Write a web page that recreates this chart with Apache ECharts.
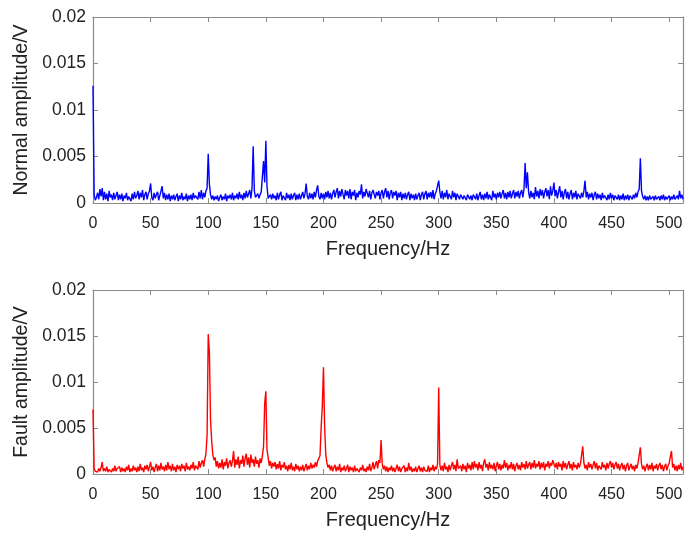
<!DOCTYPE html>
<html>
<head>
<meta charset="utf-8">
<title>Amplitude spectra</title>
<script src="https://cdn.jsdelivr.net/npm/echarts@6/dist/echarts.min.js"></script>
<style>
  html, body { margin: 0; padding: 0; background: #fff; }
  #chart { width: 686px; height: 534px; }
</style>
</head>
<body>
<div id="chart"></div>
<script>
// Spectrum amplitudes in mV, one value per 1 Hz bin starting at 0 Hz.
const normalAmp_mV = [
  12.6, 0.9, 0.3, 0.6, 1.1, 0.4, 1.5, 0.7, 1.6, 0.3,
  1.2, 0.4, 1.0, 0.2, 1.3, 0.6, 0.9, 0.3, 1.1, 0.4,
  0.8, 1.2, 0.3, 0.9, 0.4, 1.0, 0.2, 0.8, 0.5, 1.1,
  0.3, 0.7, 0.9, 0.2, 1.0, 0.4, 1.2, 0.5, 0.8, 1.3,
  0.4, 1.1, 0.6, 1.4, 0.3, 0.9, 1.2, 0.4, 1.0, 1.3,
  2.1, 0.6, 0.3, 1.1, 0.5, 0.9, 1.2, 0.3, 0.8, 1.0,
  1.8, 0.5, 1.1, 0.3, 0.9, 0.4, 1.0, 0.2, 0.8, 0.4,
  0.9, 0.3, 0.7, 1.0, 0.2, 0.8, 0.4, 1.1, 0.3, 0.7,
  0.4, 1.0, 0.2, 0.8, 0.4, 0.9, 0.3, 1.1, 0.5, 0.8,
  1.0, 0.4, 1.2, 0.5, 1.4, 0.4, 1.1, 0.6, 1.3, 1.6,
  5.3, 2.0, 0.9, 0.4, 0.8, 0.3, 0.7, 0.4, 0.8, 0.2,
  0.6, 0.9, 0.3, 0.7, 0.4, 1.0, 0.2, 0.8, 0.5, 0.9,
  0.4, 1.1, 0.3, 0.8, 0.5, 1.0, 0.4, 1.2, 0.5, 0.9,
  0.3, 1.1, 0.5, 1.3, 0.6, 1.0, 1.4, 0.5, 1.6, 6.1,
  1.3, 0.6, 0.4, 1.0, 0.5, 0.9, 1.2, 1.0, 4.5, 2.2,
  6.7, 1.8, 0.5, 0.3, 0.9, 0.4, 1.0, 0.5, 0.8, 0.3,
  1.1, 0.4, 0.9, 1.2, 0.3, 0.8, 1.0, 0.3, 1.1, 0.5,
  0.9, 0.3, 1.0, 0.4, 0.8, 1.1, 0.3, 0.9, 0.4, 1.0,
  0.4, 0.8, 1.2, 0.5, 1.0, 2.1, 0.7, 0.4, 1.1, 0.5,
  1.0, 0.4, 1.2, 0.6, 1.4, 1.9, 0.7, 0.4, 1.1, 0.5,
  1.0, 0.4, 1.2, 0.6, 1.3, 0.5, 1.1, 0.4, 1.0, 1.4,
  0.6, 1.2, 1.6, 0.5, 1.3, 0.7, 1.5, 0.9, 0.4, 1.4,
  0.8, 1.3, 0.5, 1.5, 0.4, 1.2, 0.8, 1.4, 0.3, 1.1,
  0.6, 1.3, 0.9, 2.0, 0.5, 1.2, 0.7, 1.5, 1.7, 0.6,
  1.3, 0.4, 1.1, 1.4, 1.6, 0.5, 1.2, 0.8, 1.3, 0.4,
  1.1, 1.4, 0.5, 1.2, 1.6, 0.6, 1.3, 0.4, 1.1, 1.4,
  0.5, 1.2, 0.8, 1.3, 0.3, 1.1, 0.6, 1.2, 0.3, 1.0,
  0.5, 1.1, 0.4, 0.9, 1.2, 0.3, 1.0, 0.5, 0.9, 0.3,
  1.0, 0.4, 0.8, 1.1, 0.3, 0.9, 1.2, 0.4, 1.0, 1.3,
  0.4, 1.1, 0.6, 1.2, 0.5, 1.4, 0.4, 1.0, 1.3, 1.5,
  2.4, 1.2, 0.5, 1.3, 0.4, 1.1, 0.6, 1.4, 0.4, 1.0,
  1.2, 0.4, 1.3, 0.6, 1.1, 0.3, 1.0, 1.2, 0.4, 0.9,
  1.1, 0.4, 0.8, 1.0, 0.3, 0.9, 1.1, 0.4, 0.8, 0.3,
  0.9, 1.1, 0.4, 1.0, 0.3, 0.8, 1.2, 0.4, 0.9, 0.3,
  1.0, 0.5, 1.2, 0.4, 0.9, 1.1, 0.3, 1.3, 0.6, 1.0,
  0.4, 1.1, 0.6, 1.2, 0.5, 1.0, 1.4, 0.5, 1.1, 0.4,
  1.2, 0.6, 1.3, 0.5, 1.0, 1.4, 0.5, 1.2, 0.7, 1.3,
  0.5, 1.1, 1.4, 0.6, 1.5, 4.3, 1.6, 3.3, 1.2, 0.5,
  1.3, 0.6, 1.1, 0.4, 1.7, 0.7, 1.3, 0.5, 1.5, 0.8,
  1.4, 0.5, 1.2, 1.6, 0.7, 1.4, 0.4, 1.8, 0.8, 1.3,
  2.2, 0.7, 1.4, 0.5, 1.2, 1.8, 0.6, 1.3, 0.4, 1.1,
  1.5, 0.5, 1.2, 0.4, 1.0, 1.4, 0.4, 1.1, 0.6, 1.3,
  0.4, 1.0, 1.2, 0.5, 1.1, 0.6, 1.3, 2.4, 0.6, 1.2,
  0.4, 1.0, 0.6, 1.1, 0.3, 0.9, 1.2, 0.4, 1.0, 0.5,
  0.9, 0.3, 1.1, 0.5, 0.8, 1.0, 0.3, 0.9, 0.4, 1.1,
  0.5, 0.9, 0.3, 0.8, 1.0, 0.4, 0.9, 0.3, 0.8, 0.4,
  1.0, 0.3, 0.8, 0.4, 0.9, 0.3, 0.8, 1.0, 0.4, 0.9,
  0.5, 1.1, 0.6, 1.2, 1.5, 4.8, 1.3, 0.7, 0.4, 0.8,
  0.3, 0.7, 0.3, 0.8, 0.4, 0.5, 0.7, 0.3, 0.8, 0.4,
  0.3, 0.7, 0.3, 0.8, 0.4, 0.9, 0.3, 0.7, 0.4, 0.5,
  0.8, 0.3, 0.7, 0.4, 0.9, 0.4, 0.3, 0.8, 0.4, 1.3,
  0.5, 0.9, 0.4
];

const faultAmp_mV = [
  7.0, 0.6, 0.3, 0.5, 0.2, 0.6, 0.3, 0.7, 1.3, 0.3,
  0.6, 0.3, 0.8, 0.2, 0.5, 0.7, 0.2, 0.6, 0.3, 0.9,
  0.3, 0.6, 0.4, 0.8, 0.2, 0.7, 0.3, 0.6, 0.2, 0.8,
  0.4, 1.0, 0.2, 0.6, 0.3, 0.9, 0.4, 0.7, 0.2, 0.8,
  0.3, 1.1, 0.4, 0.7, 0.2, 0.9, 0.5, 1.0, 0.3, 0.8,
  1.3, 0.4, 0.8, 0.2, 0.7, 1.1, 0.3, 0.9, 0.4, 1.2,
  0.5, 0.8, 0.3, 1.0, 0.4, 1.3, 0.5, 0.9, 0.3, 1.1,
  0.4, 0.8, 0.2, 1.0, 0.5, 0.9, 0.3, 1.1, 0.6, 0.9,
  0.3, 1.2, 0.5, 0.8, 0.4, 1.0, 0.6, 1.3, 0.4, 0.9,
  1.1, 0.5, 1.4, 0.7, 1.2, 1.5, 0.8, 1.6, 2.2, 4.2,
  15.2, 13.3, 5.9, 3.6, 2.1, 1.5, 1.8, 0.8, 1.4, 0.6,
  1.2, 0.7, 1.6, 0.5, 1.3, 0.9, 1.7, 0.6, 1.2, 1.5,
  0.8, 1.4, 2.5, 0.7, 1.6, 1.0, 1.9, 0.6, 1.5, 1.1,
  2.0, 0.8, 1.7, 2.2, 1.0, 1.8, 0.7, 2.1, 1.2, 1.6,
  0.8, 1.9, 1.1, 1.5, 0.7, 1.7, 1.2, 2.0, 3.0, 7.7,
  9.0, 2.6, 1.8, 0.9, 1.4, 0.6, 1.2, 0.8, 1.3, 0.5,
  1.1, 0.6, 1.4, 0.4, 1.0, 0.7, 1.3, 0.5, 0.9, 0.3,
  1.0, 0.5, 1.2, 0.4, 0.8, 0.3, 1.1, 0.5, 0.9, 0.3,
  0.8, 0.4, 1.0, 0.3, 0.7, 1.1, 0.4, 0.9, 0.5, 1.2,
  0.6, 1.0, 0.7, 1.3, 0.8, 1.4, 1.6, 2.0, 5.1, 7.4,
  11.6, 5.2, 2.1, 1.2, 0.7, 1.0, 0.4, 0.9, 0.3, 0.7,
  1.0, 0.3, 0.8, 0.4, 1.1, 0.2, 0.7, 0.4, 0.9, 0.3,
  0.6, 1.0, 0.2, 0.8, 0.4, 0.7, 0.2, 0.9, 0.3, 0.6,
  0.8, 0.2, 0.7, 0.4, 1.0, 0.3, 0.6, 0.2, 0.8, 0.4,
  1.1, 0.3, 0.7, 1.3, 0.5, 1.0, 1.4, 0.6, 1.5, 1.2,
  3.7, 1.1, 0.5, 0.9, 0.3, 0.8, 0.2, 0.7, 0.4, 0.9,
  0.3, 0.7, 0.2, 0.6, 1.0, 0.3, 0.8, 0.2, 0.6, 0.4,
  0.9, 0.2, 0.7, 0.3, 1.2, 0.4, 0.8, 0.2, 0.6, 0.3,
  0.8, 0.2, 0.6, 0.9, 0.3, 0.7, 0.2, 0.8, 0.4, 0.6,
  0.3, 0.9, 0.2, 0.7, 0.4, 1.0, 0.3, 0.8, 0.5, 1.1,
  9.4, 1.0, 0.4, 0.9, 0.3, 1.2, 0.5, 0.8, 0.2, 1.0,
  0.4, 0.9, 1.3, 0.5, 1.0, 0.3, 1.6, 0.6, 0.4, 0.9,
  0.3, 1.1, 0.5, 0.9, 0.2, 1.2, 0.6, 1.0, 0.4, 1.3,
  0.5, 1.4, 0.7, 1.1, 0.4, 1.3, 0.6, 1.0, 0.3, 1.2,
  1.6, 0.7, 1.1, 0.4, 1.3, 0.6, 1.0, 0.5, 1.2, 0.3,
  0.9, 1.3, 0.5, 1.1, 0.4, 1.0, 0.6, 1.5, 0.7, 1.2,
  0.4, 1.0, 0.6, 1.3, 0.5, 1.1, 0.3, 0.9, 1.2, 0.5,
  1.0, 0.4, 1.3, 0.7, 1.1, 0.5, 1.4, 0.6, 1.0, 1.3,
  0.5, 1.2, 0.7, 1.5, 0.6, 1.1, 0.8, 1.4, 0.5, 1.2,
  0.7, 1.3, 0.4, 1.1, 0.8, 1.4, 0.6, 1.2, 0.9, 1.5,
  1.7, 0.7, 1.2, 0.5, 1.3, 0.8, 1.1, 0.4, 1.4, 0.7,
  1.2, 0.5, 1.0, 1.4, 0.6, 1.1, 0.4, 1.3, 0.7, 1.0,
  0.5, 1.2, 0.7, 1.1, 1.3, 3.0, 1.2, 0.6, 1.0, 0.4,
  1.3, 0.7, 1.1, 0.5, 1.0, 1.4, 0.6, 1.2, 0.4, 0.9,
  1.1, 0.5, 1.3, 0.7, 1.0, 0.4, 1.2, 0.6, 1.1, 1.4,
  0.7, 1.2, 0.5, 1.0, 1.3, 0.6, 1.1, 0.4, 0.9, 1.2,
  0.5, 1.0, 0.3, 0.9, 1.2, 0.4, 0.8, 1.1, 0.5, 0.9,
  0.3, 1.0, 0.6, 1.2, 1.3, 2.9, 1.1, 0.5, 0.9, 0.3,
  0.8, 1.1, 0.4, 1.0, 0.5, 1.2, 0.3, 0.9, 0.6, 1.1,
  0.4, 0.9, 1.2, 0.5, 1.0, 0.3, 0.8, 1.1, 0.4, 0.9,
  1.2, 1.4, 2.5, 0.7, 1.1, 0.4, 0.9, 0.3, 1.0, 0.5,
  1.2, 0.4, 0.8
];

const binHz = 1;          // frequency resolution of the spectra
const freqMaxHz = 512;
const freqTicks = [0, 50, 100, 150, 200, 250, 300, 350, 400, 450, 500];
const ampTicksV = [0, 0.005, 0.01, 0.015, 0.02];

const toPairs = arr => arr.map((mV, i) => [i * binHz, mV / 1000]);

const FONT = '"Liberation Sans", Arial, Helvetica, sans-serif';
const AXIS_GRAY = '#8a8a8a';
const TEXT = '#222';

function xAxes(gridIndex) {
  const base = {
    type: 'value', gridIndex, min: 0, max: freqMaxHz, interval: 50,
    splitLine: { show: false },
    axisLine: { show: true, onZero: false, lineStyle: { color: AXIS_GRAY, width: 1.2 } },
    axisTick: { show: true, inside: true, length: 5, lineStyle: { color: AXIS_GRAY, width: 1 } }
  };
  return [
    Object.assign({}, base, {
      position: 'bottom',
      name: 'Frequency/Hz', nameLocation: 'middle', nameGap: 36,
      nameTextStyle: { fontFamily: FONT, fontSize: 20, color: TEXT },
      axisLabel: {
        show: true, margin: 13, fontFamily: FONT, fontSize: 16, color: TEXT,
        formatter: v => (freqTicks.indexOf(v) >= 0 ? String(v) : '')
      }
    }),
    Object.assign({}, base, { position: 'top', axisLabel: { show: false } })
  ];
}

function yAxes(gridIndex, title) {
  const base = {
    type: 'value', gridIndex, min: 0, max: 0.02, interval: 0.005,
    splitLine: { show: false },
    axisLine: { show: true, onZero: false, lineStyle: { color: AXIS_GRAY, width: 1.2 } },
    axisTick: { show: true, inside: true, length: 5, lineStyle: { color: AXIS_GRAY, width: 1 } }
  };
  return [
    Object.assign({}, base, {
      position: 'left',
      name: title, nameLocation: 'middle', nameGap: 53,
      nameTextStyle: { fontFamily: FONT, fontSize: 19.5, color: TEXT },
      axisLabel: {
        show: true, margin: 7, fontFamily: FONT, fontSize: 17.5, color: TEXT,
        formatter: v => {
          const t = ampTicksV.find(a => Math.abs(a - v) < 1e-9);
          return t === undefined ? '' : String(t);
        }
      }
    }),
    Object.assign({}, base, { position: 'right', axisLabel: { show: false } })
  ];
}

const chart = echarts.init(document.getElementById('chart'), null, { renderer: 'canvas' });

chart.setOption({
  animation: false,
  backgroundColor: '#fff',
  grid: [
    { left: 93, right: 1, top: 17, height: 186 },
    { left: 93, right: 1, top: 290, height: 184 }
  ],
  xAxis: [...xAxes(0), ...xAxes(1)],
  yAxis: [...yAxes(0, 'Normal amplitude/V'), ...yAxes(1, 'Fault amplitude/V')],
  series: [
    {
      name: 'Normal', type: 'line', xAxisIndex: 0, yAxisIndex: 0,
      data: toPairs(normalAmp_mV), showSymbol: false, sampling: null,
      lineStyle: { color: '#0000ff', width: 1.4 }, z: 1
    },
    {
      name: 'Fault', type: 'line', xAxisIndex: 2, yAxisIndex: 2,
      data: toPairs(faultAmp_mV), showSymbol: false, sampling: null,
      lineStyle: { color: '#ff0000', width: 1.4 }, z: 1
    }
  ]
});
</script>
</body>
</html>
